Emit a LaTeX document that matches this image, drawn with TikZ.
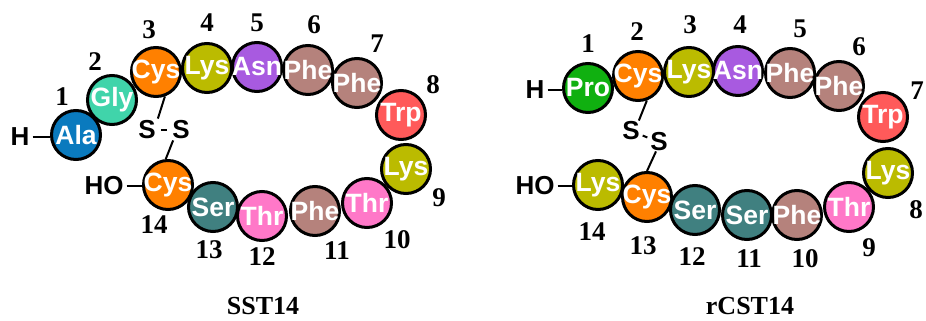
\documentclass[tikz,border=0pt]{standalone}
\usepackage{fontspec}
\setmainfont{Liberation Serif}
\newfontfamily\arialf{Liberation Sans}
\definecolor{cAla}{RGB}{10,122,190}
\definecolor{cGly}{RGB}{64,212,170}
\definecolor{cCys}{RGB}{255,128,0}
\definecolor{cLys}{RGB}{187,187,0}
\definecolor{cAsn}{RGB}{168,90,224}
\definecolor{cPhe}{RGB}{181,130,124}
\definecolor{cTrp}{RGB}{255,90,90}
\definecolor{cThr}{RGB}{255,120,200}
\definecolor{cSer}{RGB}{64,128,128}
\definecolor{cPro}{RGB}{16,176,16}
\tikzset{
  res/.style={circle,draw=black,line width=3pt,minimum size=49pt,inner sep=0pt,fill=#1},
  restext/.style={text=white,font=\arialf\bfseries\fontsize{26.5}{26.5}\selectfont,inner sep=0pt},
  num/.style={font=\bfseries\fontsize{27}{27}\selectfont,inner sep=0pt},
  ttl/.style={font=\bfseries\fontsize{26}{26}\selectfont,inner sep=0pt},
  atom/.style={font=\arialf\bfseries\fontsize{26}{26}\selectfont,inner sep=0pt},
  bond/.style={line width=2pt}
}
\newcommand{\resid}[5]{\node[res=#4,label={[restext]center:#5}] (#1) at (#2pt,#3pt) {};}
\begin{document}
\begin{tikzpicture}[x=1pt,y=1pt]
\useasboundingbox (0,0) rectangle (926,321);
% ---------- SST14 ----------
\resid{l1}{76}{186}{cAla}{Ala}
\resid{l2}{112}{221}{cGly}{Gly}
\resid{l3}{156}{249}{cCys}{Cys}
\resid{l4}{207}{253}{cLys}{Lys}
\resid{l5}{257}{254}{cAsn}{Asn}
\resid{l6}{308}{251}{cPhe}{Phe}
\resid{l7}{357}{238}{cPhe}{Phe}
\resid{l8}{401}{206}{cTrp}{Trp}
\resid{l9}{406}{152}{cLys}{Lys}
\resid{l10}{367}{118}{cThr}{Thr}
\resid{l11}{315}{110}{cPhe}{Phe}
\resid{l12}{262}{105}{cThr}{Thr}
\resid{l13}{213}{114}{cSer}{Ser}
\resid{l14}{168}{136}{cCys}{Cys}
\node[num] (ln1) at (62,224) {1};
\node[num] (ln2) at (95,259) {2};
\node[num] (ln3) at (149,291) {3};
\node[num] (ln4) at (207,298) {4};
\node[num] (ln5) at (257,298) {5};
\node[num] (ln6) at (314,296) {6};
\node[num] (ln7) at (377,277) {7};
\node[num] (ln8) at (433,236) {8};
\node[num] (ln9) at (439,123) {9};
\node[num] (ln10) at (397,81) {10};
\node[num] (ln11) at (337,70) {11};
\node[num] (ln12) at (262,64) {12};
\node[num] (ln13) at (209,71) {13};
\node[num] (ln14) at (154,96) {14};
\node[ttl] (lt) at (263,15) {SST14};
\node[atom] (lH) at (20,184) {H};
\node[atom] (lHO) at (104,135) {HO};
\node[atom] (lS1) at (147,191) {S};
\node[atom] (lS2) at (181,191) {S};
\draw[bond] ([xshift=3pt]lH.east) -- (lH.east -| l1.west);
\draw[bond] ([xshift=3pt]lHO.east) -- (lHO.east -| l14.west);
\draw[bond] ([shift={(2pt,2pt)}]lS1.north east) -- (l3.-70);
\draw[bond,shorten <=5pt,shorten >=5pt] (lS1.east) -- (lS2.west);
\draw[bond] ([shift={(1pt,-1pt)}]lS2.south west) -- (l14.95);
% ---------- rCST14 ----------
\resid{r1}{588}{233}{cPro}{Pro}
\resid{r2}{638}{245}{cCys}{Cys}
\resid{r3}{689}{249}{cLys}{Lys}
\resid{r4}{738}{250}{cAsn}{Asn}
\resid{r5}{790}{248}{cPhe}{Phe}
\resid{r6}{839}{235}{cPhe}{Phe}
\resid{r7}{883}{204}{cTrp}{Trp}
\resid{r8}{888}{148}{cLys}{Lys}
\resid{r9}{849}{114}{cThr}{Thr}
\resid{r10}{797}{106}{cPhe}{Phe}
\resid{r11}{747}{106}{cSer}{Ser}
\resid{r12}{695}{111}{cSer}{Ser}
\resid{r13}{647}{124}{cCys}{Cys}
\resid{r14}{598}{136}{cLys}{Lys}
\node[num] (rn1) at (588,277) {1};
\node[num] (rn2) at (637,289) {2};
\node[num] (rn3) at (690,296) {3};
\node[num] (rn4) at (740,296) {4};
\node[num] (rn5) at (800,292) {5};
\node[num] (rn6) at (859,274) {6};
\node[num] (rn7) at (917,230) {7};
\node[num] (rn8) at (916,111) {8};
\node[num] (rn9) at (869,73) {9};
\node[num] (rn10) at (805,62) {10};
\node[num] (rn11) at (749,62) {11};
\node[num] (rn12) at (692,64) {12};
\node[num] (rn13) at (643,75) {13};
\node[num] (rn14) at (592,89) {14};
\node[ttl] (rt) at (750,15) {rCST14};
\node[atom] (rH) at (535,231) {H};
\node[atom] (rHO) at (535,135) {HO};
\node[atom] (rS1) at (631,190) {S};
\node[atom] (rS2) at (659,179) {S};
\draw[bond] ([xshift=3pt]rH.east) -- (rH.east -| r1.west);
\draw[bond] ([xshift=3pt]rHO.east) -- (rHO.east -| r14.west);
\draw[bond] ([shift={(-1pt,1pt)}]rS1.north east) -- (r2.-70);
\draw[bond,shorten <=3pt,shorten >=3pt] (rS1) -- (rS2);
\draw[bond] ([xshift=-3pt]rS2.south) -- (r13.90);
\end{tikzpicture}
\end{document}
